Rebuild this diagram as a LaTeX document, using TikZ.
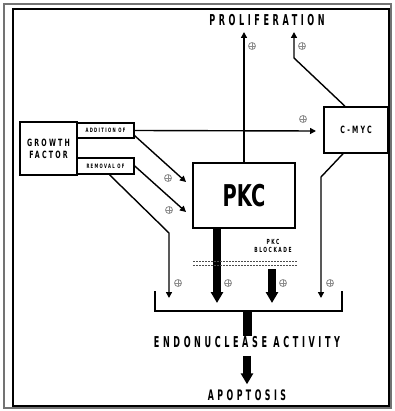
\documentclass[tikz,border=0pt]{standalone}
\usepackage{fontspec}
\usetikzlibrary{arrows.meta,calc}
\newfontfamily\labf{DejaVu Sans Condensed}[LetterSpace=22,FakeStretch=0.7]
\newfontfamily\labt{DejaVu Sans Condensed}[LetterSpace=24,FakeStretch=0.6]
\newfontfamily\bigf{DejaVu Sans Condensed}[FakeStretch=0.72]
\tikzset{
  boxn/.style={draw,line width=1.5pt,inner sep=0pt,align=center},
  arr/.style={line width=1.4pt,-{Triangle[length=6pt,width=6pt]}},
  thick arr/.style={line width=8.5pt,-{Triangle[length=11pt,width=12pt]}},
  lbl/.style={inner sep=0pt,align=center,font=\labf\bfseries},
  pl/.style={circle,draw=black!45,line width=0.8pt,minimum size=7pt,inner sep=0pt,
    path picture={\draw[black!45,line width=0.8pt]
      (path picture bounding box.north) -- (path picture bounding box.south)
      (path picture bounding box.west) -- (path picture bounding box.east);}}
}
\begin{document}
\begin{tikzpicture}[x=1pt,y=-1pt]
\useasboundingbox (0,0) rectangle (394,411);
% frame
\draw[black!55,line width=2.5pt] (4,4) rectangle (391,408);
\draw[black,line width=1.5pt] (13,9) rectangle (389,406);
% nodes
\node[boxn,minimum width=57pt,minimum height=53pt,font=\labf\bfseries\fontsize{10}{12}\selectfont] (gf) at (48.5,148.5) {GROWTH\\FACTOR};
\node[boxn,minimum width=57pt,minimum height=15pt,font=\labf\bfseries\fontsize{6}{7}\selectfont] (add) at (105.5,130.5) {ADDITION OF};
\node[boxn,minimum width=57pt,minimum height=16pt,font=\labf\bfseries\fontsize{6}{7}\selectfont] (rem) at (105.5,166) {REMOVAL OF};
\node[boxn,minimum width=102pt,minimum height=65pt,font=\bigf\bfseries\fontsize{30}{30}\selectfont] (pkc) at (244,195.5) {PKC};
\node[boxn,minimum width=64pt,minimum height=46pt,font=\labf\bfseries\fontsize{10}{12}\selectfont] (cmyc) at (356,130) {C-MYC};
\node[lbl,font=\labt\bfseries\fontsize{15}{15}\selectfont] (prol) at (267,20) {PROLIFERATION};
\node[lbl,font=\labt\bfseries\fontsize{15}{15}\selectfont] (endo) at (247,342) {ENDONUCLEASE ACTIVITY};
\node[lbl,font=\labt\bfseries\fontsize{14.5}{15}\selectfont] (apop) at (247,395) {APOPTOSIS};
\node[lbl,font=\labf\bfseries\fontsize{7}{8}\selectfont] (blk) at (273,246) {PKC\\BLOCKADE};
% coordinates
\coordinate (t1) at (244,32);
\coordinate (t2) at (294,32);
\coordinate (b2) at (294,58);
\coordinate (tc) at (316,131);
\coordinate (ta) at (186,182);
\coordinate (tr) at (186,212);
\coordinate (bl) at (169,233);
\coordinate (tl) at (169,298);
\coordinate (bc) at (321,177);
\coordinate (tcm) at (321,298);
\coordinate (tp) at (217,303);
\coordinate (sb) at (272,269);
\coordinate (tb) at (272,303);
\coordinate (bL) at (155,291);
\coordinate (bR) at (342,291);
\coordinate (bM) at (247,311);
% thin arrows
\draw[arr] (pkc.north) -- (t1);
\draw[arr] (cmyc.north) ++(-11,0) -- (b2) -- (t2);
\draw[arr] (add.east) -- (tc);
\draw[arr] (add.south east) ++(0,-3) -- (ta);
\draw[arr] (rem.east) -- (tr);
\draw[arr] (rem.south) ++(4,0) -- (bl) -- (tl);
\draw[arr] (cmyc.south) ++(-13,0) -- (bc) -- (tcm);
% thick arrows
\draw[thick arr] (pkc.south) ++(-27,0) -- (tp);
\draw[thick arr] (sb) -- (tb);
% blockade barrier
\draw[black!70,line width=1.6pt,dash pattern=on 2pt off 1pt] (193,261.5) -- (297,261.5);
\draw[black!70,line width=1.6pt,dash pattern=on 2pt off 1pt] (193,265.5) -- (297,265.5);
% bracket
\draw[line width=1.5pt] (bL) |- (bM) -| (bR);
\draw[line width=9pt] (bM) -- (endo.north);
\draw[thick arr,shorten >=5pt] (endo.south) ++(0,8) -- (apop.north);
% plus signs
\foreach \n/\p in {p1/{(252,46)},p2/{(302,46)},p3/{(303,119)},p4/{(168,178)},p5/{(169,210)},p6/{(178,283)},p7/{(228,283)},p8/{(283,283)},p9/{(330,283)}}
  \node[pl] (\n) at \p {};
\end{tikzpicture}
\end{document}
